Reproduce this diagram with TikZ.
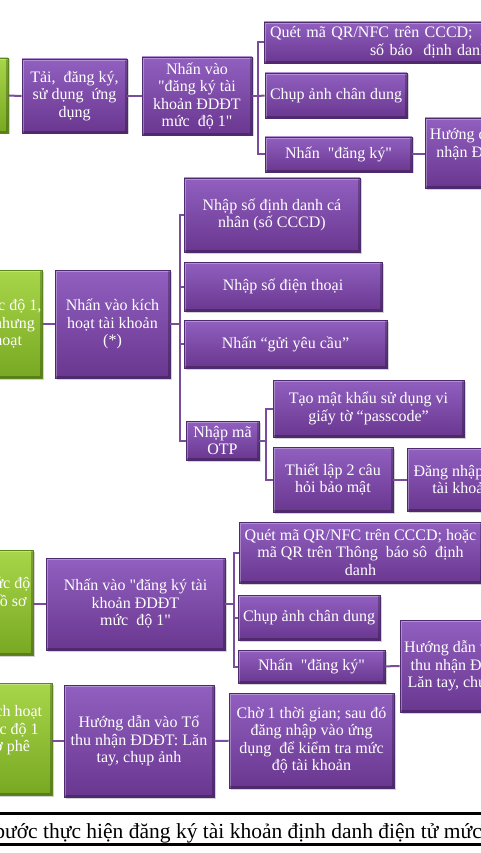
\documentclass[tikz,border=0pt]{standalone}
\usepackage{fontspec}
\setmainfont{Liberation Serif}[Ligatures=TeXOff]
\usetikzlibrary{shadows}

\definecolor{timsang}{HTML}{9160C0}
\definecolor{timtoi}{HTML}{69378F}
\definecolor{vientim}{HTML}{4E2A6E}
\definecolor{xanhsang}{HTML}{A8D64A}
\definecolor{xanhtoi}{HTML}{78A822}
\definecolor{vienxanh}{HTML}{5A861A}
\definecolor{duongnoi}{HTML}{7A4C9E}

\tikzset{
	hop/.style={rectangle, draw=vientim, line width=0.7pt, top color=timsang, bottom color=timtoi,
		text=white, align=center, inner sep=1pt, font=\fontsize{16}{17.5}\selectfont,
		drop shadow={opacity=0.35, shadow xshift=1.5pt, shadow yshift=-1.5pt},
		path picture={
			\draw[white, opacity=0.3, line width=4pt] (path picture bounding box.south west)
				-- (path picture bounding box.north west) -- (path picture bounding box.north east);
			\draw[black, opacity=0.25, line width=4pt] (path picture bounding box.north east)
				-- (path picture bounding box.south east) -- (path picture bounding box.south west);
		}},
	hopxanh/.style={hop, draw=vienxanh, top color=xanhsang, bottom color=xanhtoi},
	noi/.style={draw=duongnoi, line width=2pt},
}

\begin{document}
\begin{tikzpicture}[x=1pt, y=-1pt]
	\useasboundingbox (0,0) rectangle (480,853);

	% buoc 1
	\node[hopxanh, minimum width=108, minimum height=75] (g1) at (-46,95.5) {};
	\node[hop, minimum width=105, minimum height=74] (tai) at (74.5,96) {Tải,\ \ đăng ký,\\ sử dụng\ \ ứng\\ dụng};
	\node[hop, minimum width=110, minimum height=78] (nhan1) at (197,96) {Nhấn vào\\ "đăng ký tài\\ khoản ĐDĐT\\ mức\ \ độ 1"};
	\node[hop, minimum width=260, minimum height=41, text width=250, align=left, inner xsep=6] (quet1) at (395,42.5)
		{Quét mã QR/NFC trên CCCD;\\ \hspace*{100pt}số báo\ \ định danh};
	\node[hop, minimum width=142, minimum height=45] (chup1) at (336,95.5) {Chụp ảnh chân dung};
	\node[hop, minimum width=147, minimum height=35] (dangky1) at (338.5,154.5) {Nhấn\ \ "đăng ký"};
	\node[hop, minimum width=155, minimum height=70, align=right] (huong1) at (502.5,153) {Hướng dẫn vào Tổ thu\\ nhận ĐDĐT: Lăn tay,\\ chụp ảnh};
	\coordinate (bus1) at (258,96);

	\draw[noi] (g1) -- (tai);
	\draw[noi] (tai) -- (nhan1);
	\draw[noi] (nhan1) -- (bus1);
	\draw[noi] (bus1) |- (quet1.west);
	\draw[noi] (bus1) -- (chup1.west);
	\draw[noi] (bus1) |- (dangky1.west);
	\draw[noi] (dangky1.east) -- (dangky1.east -| huong1.west);

	% buoc 2
	\node[hopxanh, minimum width=134, minimum height=108] (g2) at (-25,324) {Tài khoản mức độ 1,\\ đã được tạo nhưng\\ chưa kích hoạt};
	\node[hop, minimum width=115, minimum height=108] (nhan2) at (112.5,324) {Nhấn vào kích\\ hoạt tài khoản\\ (*)};
	\node[hop, minimum width=176, minimum height=74] (dinhdanh) at (272,215) {Nhập số định danh cá\\ nhân (số CCCD)};
	\node[hop, minimum width=198, minimum height=49] (dienthoai) at (283,286.5) {Nhập số điện thoại};
	\node[hop, minimum width=203, minimum height=48] (guiyc) at (285.5,344) {Nhấn “gửi yêu cầu”};
	\node[hop, minimum width=73, minimum height=39] (otp) at (222.5,440.5) {Nhập mã\\ OTP};
	\node[hop, minimum width=191, minimum height=57] (passcode) at (368.5,408.5) {Tạo mật khẩu sử dụng vi\\ giấy tờ “passcode”};
	\node[hop, minimum width=120, minimum height=65] (baomat) at (333,479.5) {Thiết lập 2 câu\\ hỏi bảo mật};
	\node[hop, minimum width=110, minimum height=63] (dangnhap) at (462,479.5) {Đăng nhập vào\\ tài khoản};
	\coordinate (bus2) at (180,324);
	\coordinate (bus3) at (266,440.5);

	\draw[noi] (g2) -- (nhan2);
	\draw[noi] (nhan2) -- (bus2);
	\draw[noi] (bus2) |- (dinhdanh.west);
	\draw[noi] (bus2) |- (dienthoai.west);
	\draw[noi] (bus2) |- (guiyc.west);
	\draw[noi] (bus2) |- (otp.west);
	\draw[noi] (otp) -- (bus3);
	\draw[noi] (bus3) |- (passcode.west);
	\draw[noi] (bus3) |- (baomat.west);
	\draw[noi] (baomat) -- (dangnhap);

	% buoc 3
	\node[hopxanh, minimum width=122, minimum height=105] (g3) at (-28,602.5) {Tài khoản mức độ\\ 2 khi đã có hồ sơ\\ gốc};
	\node[hop, minimum width=179, minimum height=92] (nhan3) at (135.5,604) {Nhấn vào "đăng ký tài\\ khoản ĐDĐT\\ mức\ \ độ 1"};
	\node[hop, minimum width=243, minimum height=61] (quet3) at (360.5,552.5) {Quét mã QR/NFC trên CCCD; hoặc\\ mã QR trên Thông\ \ báo sô\ \ định\\ danh};
	\node[hop, minimum width=142, minimum height=45] (chup3) at (309,617.5) {Chụp ảnh chân dung};
	\node[hop, minimum width=147, minimum height=33] (dangky3) at (311.5,666.5) {Nhấn\ \ "đăng ký"};
	\node[hop, minimum width=129, minimum height=92] (huong3) at (464.5,666) {Hướng dẫn vào Tổ\\ thu nhận ĐDĐT:\\ Lăn tay, chụp ảnh};
	\coordinate (bus4) at (234,604);

	\draw[noi] (nhan3.west) -- (nhan3.west -| g3.east);
	\draw[noi] (nhan3) -- (bus4);
	\draw[noi] (bus4) |- (quet3.west);
	\draw[noi] (bus4) |- (chup3.west);
	\draw[noi] (bus4) |- (dangky3.west);
	\draw[noi] (dangky3) -- (huong3);

	% buoc 4
	\node[hopxanh, minimum width=150, minimum height=112] (g4) at (-23,739) {Không thể kích hoạt\\ tài khoản mức độ 1\\ do đang chờ phê\\ duyệt};
	\node[hop, minimum width=150, minimum height=112] (huong4) at (139,741) {Hướng dẫn vào Tổ\\ thu nhận ĐDĐT: Lăn\\ tay, chụp ảnh};
	\node[hop, minimum width=165, minimum height=95] (cho4) at (311.5,740.5) {Chờ 1 thời gian; sau đó\\ đăng nhập vào ứng\\ dụng\ \ để kiểm tra mức\\ độ tài khoản};

	\draw[noi] (huong4.west) -- (huong4.west -| g4.east);
	\draw[noi] (huong4) -- (cho4);

	% chu thich
	\draw[line width=3pt] (-10,813) -- (490,813);
	\draw[line width=3pt] (-10,844.5) -- (490,844.5);
	\node[anchor=base west, inner sep=0pt, font=\fontsize{21.5}{24}\selectfont] (tieude) at (5,838)
		{\llap{Các b}ước thực hiện đăng ký tài khoản định danh điện tử mức độ 1, mức độ 2};
\end{tikzpicture}
\end{document}
